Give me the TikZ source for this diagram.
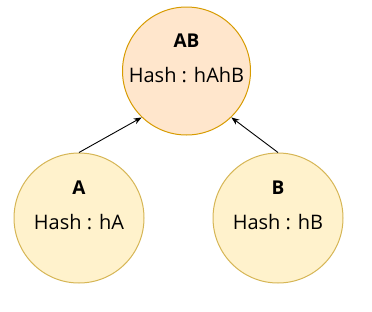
\documentclass[tikz,border=0pt]{standalone}
\usepackage{fontspec}
\setmainfont{Open Sans}
\usetikzlibrary{arrows.meta}
\definecolor{rootfill}{HTML}{FFE6CC}
\definecolor{rootdraw}{HTML}{D79B00}
\definecolor{leaffill}{HTML}{FFF2CC}
\definecolor{leafdraw}{HTML}{D6B656}
\tikzset{
  rootnode/.style={circle, draw=rootdraw, fill=rootfill, line width=1pt, minimum size=128pt, inner sep=0pt},
  leafnode/.style={circle, draw=leafdraw, fill=leaffill, line width=1pt, minimum size=130pt, inner sep=0pt},
  titletext/.style={font=\fontsize{19}{22}\selectfont\bfseries, inner sep=0pt},
  hashtext/.style={font=\fontsize{20}{23}\selectfont, inner sep=0pt},
  link/.style={-{Stealth[length=8pt, width=6pt, inset=2.5pt]}, line width=0.9pt, black}
}
\begin{document}
\begin{tikzpicture}[x=1pt, y=-1pt]
\useasboundingbox (0,0) rectangle (372,311);
\node[rootnode] (AB) at (186.5,71) {};
\node[leafnode] (A) at (79,218) {};
\node[leafnode] (B) at (278,218) {};
\node[titletext] (ABt) at (186.5,41) {AB};
\node[hashtext] (ABh) at (186.5,75) {Hash : hAhB};
\node[titletext] (At) at (79,188) {A};
\node[hashtext] (Ah) at (79,222) {Hash : hA};
\node[titletext] (Bt) at (278,188) {B};
\node[hashtext] (Bh) at (278,222) {Hash : hB};
\draw[link] (A.north) -- (AB.226);
\draw[link] (B.north) -- (AB.314);
\end{tikzpicture}
\end{document}
